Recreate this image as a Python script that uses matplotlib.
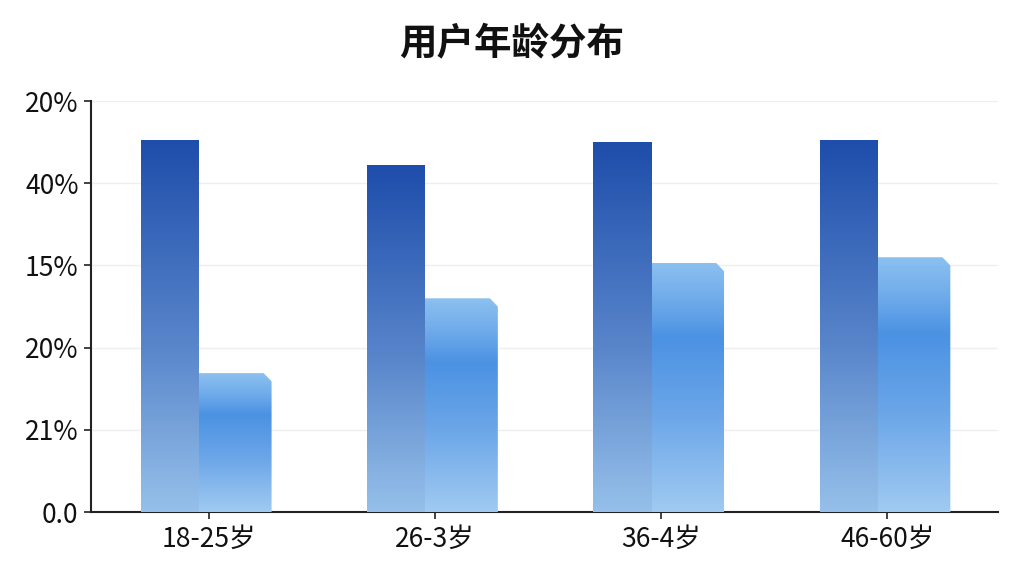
import numpy as np
import matplotlib.pyplot as plt
from matplotlib.colors import LinearSegmentedColormap
from matplotlib.patches import Polygon

plt.rcParams['font.family'] = ['Noto Sans CJK SC', 'DejaVu Sans']

# data
categories = ["18-25岁", "26-3岁", "36-4岁", "46-60岁"]
dark_vals = [45.3, 42.2, 45.0, 45.3]
light_vals = [16.9, 26.0, 30.3, 31.0]
ytick_vals = [0, 10, 20, 30, 40, 50]
ytick_labels = ["0.0", "21%", "20%", "15%", "40%", "20%"]
title = "用户年龄分布"

dark_cmap = LinearSegmentedColormap.from_list(
    "dark", [(0.0, "#96c0ea"), (0.45, "#5885ca"), (1.0, "#1e4dab")])
light_cmap = LinearSegmentedColormap.from_list(
    "light", [(0.0, "#a0caf1"), (0.4, "#6aa5e8"), (0.7, "#4b92e3"),
              (0.86, "#72adeb"), (1.0, "#8bc0f0")])

fig = plt.figure(figsize=(10.24, 5.76), dpi=100)
ax = fig.add_axes([0.0889, 0.111, 0.886, 0.7136])

x = np.arange(len(categories))
dark_off, dark_w = -0.174, 0.251
light_off, light_w = 0.115, 0.326
grad = np.linspace(0, 1, 256).reshape(-1, 1)


def gradient_bar(x0, w, h, cmap, bevel=False, z=3):
    if bevel:
        bx, by = 0.035, 1.0
        pts = [(x0, 0), (x0 + w, 0), (x0 + w, h - by), (x0 + w - bx, h), (x0, h)]
    else:
        pts = [(x0, 0), (x0 + w, 0), (x0 + w, h), (x0, h)]
    poly = Polygon(pts, closed=True, facecolor="none", edgecolor="none")
    ax.add_patch(poly)
    im = ax.imshow(grad, cmap=cmap, origin="lower", aspect="auto",
                   extent=(x0, x0 + w, 0, h), zorder=z)
    im.set_clip_path(poly)


for i in x:
    gradient_bar(i + light_off - light_w / 2, light_w, light_vals[i], light_cmap,
                 bevel=True, z=3)
    gradient_bar(i + dark_off - dark_w / 2, dark_w + 0.006, dark_vals[i], dark_cmap, z=4)

ax.set_xlim(-0.52, 3.49)
ax.set_ylim(0, 50)
ax.set_xticks(x)
ax.set_xticklabels(categories, fontsize=19)
ax.set_yticks(ytick_vals)
ax.set_yticklabels(ytick_labels, fontsize=19)
ax.tick_params(axis="both", length=5, width=1.2, color="#222222", labelcolor="#111111")
ax.tick_params(axis="x", pad=5)
ax.tick_params(axis="y", pad=4)

ax.grid(axis="y", color="#efefef", linewidth=1)
ax.set_axisbelow(True)
for s in ["top", "right"]:
    ax.spines[s].set_visible(False)
for s in ["left", "bottom"]:
    ax.spines[s].set_linewidth(1.5)
    ax.spines[s].set_color("#222222")

fig.text(0.5, 0.925, title, ha="center", va="center", fontsize=27, fontweight="bold",
         color="#111111")

fig.savefig("out.png", dpi=100, facecolor="white")
